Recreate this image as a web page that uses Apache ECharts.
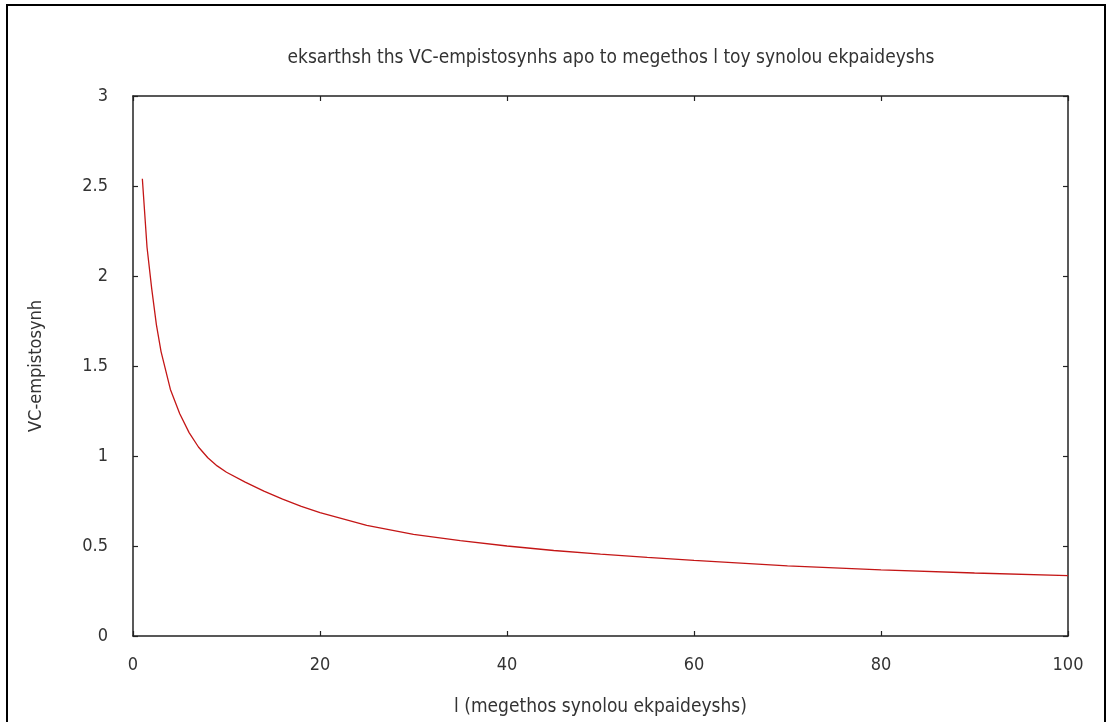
<!DOCTYPE html>
<html>
<head>
<meta charset="utf-8">
<title>VC-empistosynh</title>
<script src="https://cdn.jsdelivr.net/npm/echarts@6/dist/echarts.min.js"></script>
<style>
  html, body { margin: 0; padding: 0; background: #fff; }
  #main { width: 1110px; height: 722px; }
</style>
</head>
<body>
<div id="main"></div>
<script>
// l (training set size) and the VC confidence
var sizes = [1, 1.5, 2, 2.5, 3, 4, 5, 6, 7, 8, 9, 10, 12, 14, 16, 18, 20, 25, 30, 35, 40, 45, 50, 55, 60, 70, 80, 90, 100];
var confidence = [2.54, 2.16, 1.93, 1.73, 1.58, 1.37, 1.235, 1.13, 1.05, 0.99, 0.945, 0.91, 0.855, 0.805, 0.76, 0.72, 0.685, 0.615, 0.565, 0.53, 0.50, 0.475, 0.455, 0.437, 0.42, 0.39, 0.367, 0.35, 0.335];
var xTicks = [0, 20, 40, 60, 80, 100];
var yTicks = [0, 0.5, 1, 1.5, 2, 2.5, 3];

var titleText = 'eksarthsh ths VC-empistosynhs apo to megethos l toy synolou ekpaideyshs';
var xName = 'l (megethos synolou ekpaideyshs)';
var yName = 'VC-empistosynh';

var font = '"Liberation Sans Narrow", "DejaVu Sans Condensed", "Liberation Sans", sans-serif';
var txt = '#333';

var points = sizes.map(function (l, i) { return [l, confidence[i]]; });

var chart = echarts.init(document.getElementById('main'));

var axisBase = function (pos, show, ticks) {
    return {
        type: 'value',
        position: pos,
        min: ticks[0],
        max: ticks[ticks.length - 1],
        interval: ticks[1] - ticks[0],
        axisLine: { show: true, onZero: false, lineStyle: { color: '#222', width: 1.5 } },
        axisTick: { show: true, inside: true, length: 5, lineStyle: { color: '#222', width: 1.2 } },
        axisLabel: { show: show, color: txt, fontFamily: font, fontSize: 18 },
        splitLine: { show: false }
    };
};

var xBottom = axisBase('bottom', true, xTicks);
xBottom.axisLabel.margin = 20;
xBottom.name = xName;
xBottom.nameLocation = 'middle';
xBottom.nameGap = 62;
xBottom.nameTextStyle = { color: txt, fontFamily: font, fontSize: 19 };

var yLeft = axisBase('left', true, yTicks);
yLeft.axisLabel.margin = 25;
yLeft.name = yName;
yLeft.nameLocation = 'middle';
yLeft.nameGap = 88;
yLeft.nameTextStyle = { color: txt, fontFamily: font, fontSize: 18 };

chart.setOption({
    backgroundColor: '#fff',
    animation: false,
    title: {
        text: titleText,
        left: 606,
        textAlign: 'center',
        top: 44,
        textStyle: { color: txt, fontFamily: font, fontSize: 19, fontWeight: 'normal' }
    },
    grid: { left: 133, right: 42, top: 96, bottom: 83 },
    xAxis: [xBottom, axisBase('top', false, xTicks)],
    yAxis: [yLeft, axisBase('right', false, yTicks)],
    graphic: [{
        type: 'rect',
        shape: { x: 7, y: 5, width: 1098, height: 800 },
        style: { fill: null, stroke: '#000', lineWidth: 2 },
        silent: true
    }],
    series: [{
        type: 'line',
        data: points,
        showSymbol: false,
        smooth: false,
        lineStyle: { color: '#c41616', width: 1.3 }
    }]
});
</script>
</body>
</html>
